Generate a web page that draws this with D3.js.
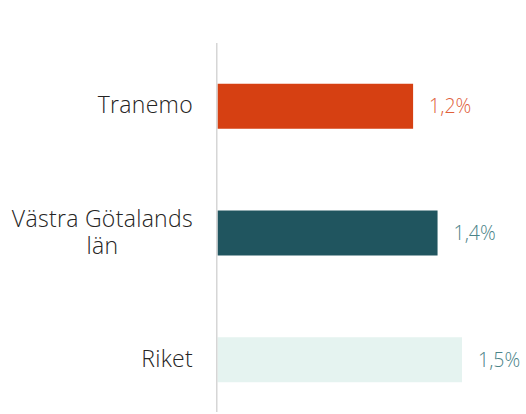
<!DOCTYPE html>
<html>
<head>
<meta charset="utf-8">
<script src="https://cdn.jsdelivr.net/npm/d3@7"></script>
<style>
  body { margin: 0; background: #fff; }
  svg text { font-family: "Segoe UI Light", "Open Sans", sans-serif; font-weight: 300; }
</style>
</head>
<body>
<div id="chart"></div>
<script>
// data
const categories = ["Tranemo", "Västra Götalands län", "Riket"];
const labelLines = [["Tranemo"], ["Västra Götalands", "län"], ["Riket"]];
const values = [1.2, 1.35, 1.5];
const barColors = ["#d64012", "#20555f", "#e5f3f0"];
const valueColors = ["#e0603a", "#4a8388", "#4a8388"];

const width = 526;
const height = 414;

const svg = d3.select("#chart")
    .append("svg")
    .attr("width", width)
    .attr("height", height);

const x = d3.scaleLinear()
    .domain([0, 1.5])
    .range([217.5, 462]);

const y = d3.scaleBand()
    .domain(categories)
    .range([2, 464])
    .padding(0.645);

const fmt = d3.formatLocale({ decimal: ",", thousands: " ", grouping: [3], currency: ["", ""] }).format(".1f");

// bars
svg.selectAll("rect.bar")
    .data(values)
    .enter()
    .append("rect")
    .attr("class", "bar")
    .attr("x", x(0))
    .attr("y", (d, i) => y(categories[i]))
    .attr("width", d => x(d) - x(0))
    .attr("height", y.bandwidth())
    .attr("fill", (d, i) => barColors[i]);

// axis line
svg.append("line")
    .attr("x1", 216.75).attr("x2", 216.75)
    .attr("y1", 43).attr("y2", 412)
    .attr("stroke", "#d6d6d6")
    .attr("stroke-width", 1.5);

// value labels
svg.selectAll("text.value")
    .data(values)
    .enter()
    .append("text")
    .attr("class", "value")
    .attr("x", d => x(d) + 16)
    .attr("y", (d, i) => y(categories[i]) + y.bandwidth() / 2 + 7)
    .attr("fill", (d, i) => valueColors[i])
    .style("font-size", "19.5px")
    .text(d => fmt(d) + "%");

// category labels, lines centred on each other, block right-aligned
const labelRight = 193;
const lineH = 27;
labelLines.forEach((lines, i) => {
    const cy = y(categories[i]) + y.bandwidth() / 2;
    lines.forEach((line, j) => {
        svg.append("text")
            .attr("class", "cat")
            .attr("data-row", i)
            .attr("y", cy + 7 + (j - (lines.length - 1) / 2) * lineH)
            .attr("fill", "#252423")
            .attr("text-anchor", "middle")
            .style("font-size", "23px")
            .style("letter-spacing", "0.3px")
            .text(line);
    });
    const row = svg.selectAll(`text.cat[data-row="${i}"]`);
    const w = d3.max(row.nodes(), n => n.getComputedTextLength());
    row.attr("x", labelRight - w / 2);
});
</script>
</body>
</html>
